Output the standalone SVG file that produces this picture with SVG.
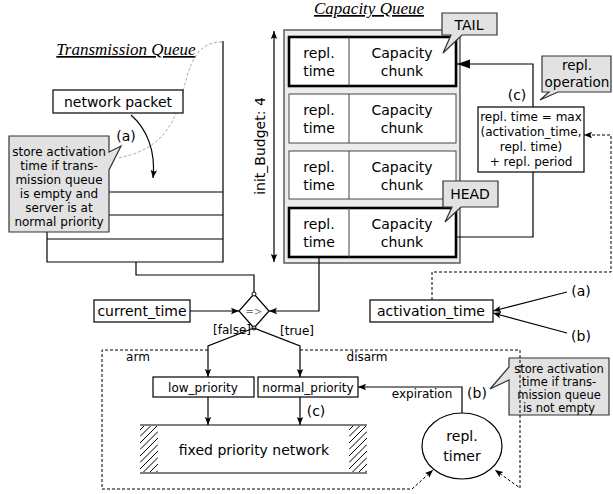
<svg xmlns="http://www.w3.org/2000/svg" width="613" height="494" viewBox="0 0 613 494">
<defs>
<marker id="ah" viewBox="0 0 10 10" refX="10" refY="5" markerWidth="8" markerHeight="8" markerUnits="userSpaceOnUse" orient="auto-start-reverse">
<path d="M0,1 L10,5 L0,9 L2,5 Z" fill="#000"/>
</marker>
<marker id="ahb" viewBox="0 0 10 10" refX="10" refY="5" markerWidth="13" markerHeight="13" markerUnits="userSpaceOnUse" orient="auto">
<path d="M0,1.5 L10,5 L0,8.5 Z" fill="#000"/>
</marker>
<clipPath id="clipL"><rect x="140" y="426" width="18" height="46"/></clipPath>
<clipPath id="clipR"><rect x="349" y="426" width="18" height="46"/></clipPath>
<path id="hatchlines" d="M0,430 L18,412 M0,436.5 L18,418.5 M0,443 L18,425 M0,449.5 L18,431.5 M0,456 L18,438 M0,462.5 L18,444.5 M0,469 L18,451 M0,475.5 L18,457.5 M0,482 L18,464 M0,488.5 L18,470.5" fill="none" stroke="#000" stroke-width="1"/>
<style>
text{font-family:"DejaVu Sans","Noto Sans",sans-serif;fill:#000}
.t14{font-size:14px}
.t13{font-size:13.5px}
.t12{font-size:12px}
.t115{font-size:11.5px}
.title{font-family:"Liberation Serif","DejaVu Serif",serif;font-style:italic;font-size:17px;text-decoration:underline}
.box{fill:#fff;stroke:#000;stroke-width:1.2}
.call{fill:#e2e2e2;stroke:#333;stroke-width:1.2}
.ln{fill:none;stroke:#000;stroke-width:1.2}
.dash{fill:none;stroke:#000;stroke-width:1;stroke-dasharray:3,2}
.thick{fill:#fff;stroke:#000;stroke-width:2.6}
.thin{fill:#fff;stroke:#444;stroke-width:1}
</style>
</defs>

<!-- Transmission queue -->
<g id="transmission-queue">
<text class="title" x="126" y="55" text-anchor="middle">Transmission Queue</text>
<path d="M222,42 C200,42 192,58 186,80 C178,110 172,148 118,158" fill="none" stroke="#aaa" stroke-width="1" stroke-dasharray="3,2"/>
<path class="ln" d="M223,41 V262 H47 V192 M47,192 H223 M47,215 H223 M47,239 H223"/>
</g>

<g id="network-packet">
<rect class="box" x="53" y="90" width="130" height="23"/>
<text class="t14" x="118" y="106.5" text-anchor="middle">network packet</text>
</g>

<g id="note-a">
<path class="call" d="M9,136 H109 V152 L121,146 L109,170 V232 H9 Z"/>
<text class="t12" text-anchor="middle"><tspan x="59" y="156">store activation</tspan><tspan x="59" y="170">time if trans-</tspan><tspan x="59" y="184">mission queue</tspan><tspan x="59" y="198">is empty and</tspan><tspan x="59" y="212">server is at</tspan><tspan x="59" y="226">normal priority</tspan></text>
<text class="t14" x="126" y="141" text-anchor="middle">(a)</text>
</g>

<!-- Capacity queue -->
<g id="capacity-queue">
<text class="title" x="369" y="14" text-anchor="middle">Capacity Queue</text>
<rect x="284" y="30" width="176" height="233" fill="#ececec" stroke="#666" stroke-width="1.6"/>
</g>

<g id="chunk-tail">
<rect class="thick" x="289" y="37" width="167" height="49"/>
<line x1="349" y1="37" x2="349" y2="86" stroke="#444"/>
<text class="t14" text-anchor="middle"><tspan x="319" y="58">repl.</tspan><tspan x="319" y="76">time</tspan></text>
<text class="t14" text-anchor="middle"><tspan x="402" y="58">Capacity</tspan><tspan x="402" y="76">chunk</tspan></text>
</g>
<g id="chunk-2">
<rect class="thin" x="289" y="94" width="167" height="49"/>
<line x1="349" y1="94" x2="349" y2="143" stroke="#444"/>
<text class="t14" text-anchor="middle"><tspan x="319" y="115">repl.</tspan><tspan x="319" y="133">time</tspan></text>
<text class="t14" text-anchor="middle"><tspan x="402" y="115">Capacity</tspan><tspan x="402" y="133">chunk</tspan></text>
</g>
<g id="chunk-3">
<rect class="thin" x="289" y="151" width="167" height="48"/>
<line x1="349" y1="151" x2="349" y2="199" stroke="#444"/>
<text class="t14" text-anchor="middle"><tspan x="319" y="172">repl.</tspan><tspan x="319" y="190">time</tspan></text>
<text class="t14" text-anchor="middle"><tspan x="402" y="172">Capacity</tspan><tspan x="402" y="190">chunk</tspan></text>
</g>
<g id="chunk-head">
<rect class="thick" x="289" y="208" width="167" height="49"/>
<line x1="349" y1="208" x2="349" y2="257" stroke="#444"/>
<text class="t14" text-anchor="middle"><tspan x="319" y="229">repl.</tspan><tspan x="319" y="247">time</tspan></text>
<text class="t14" text-anchor="middle"><tspan x="402" y="229">Capacity</tspan><tspan x="402" y="247">chunk</tspan></text>
</g>

<g id="init-budget">
<line class="ln" x1="274" y1="31" x2="274" y2="262" marker-start="url(#ah)" marker-end="url(#ah)"/>
<text class="t14" transform="translate(265,146) rotate(-90)" text-anchor="middle">init_Budget: 4</text>
</g>

<g id="tail-label">
<path class="call" d="M442,13 H497 V35 H462 L443,53 L451,35 H442 Z"/>
<text class="t14" x="469" y="29.5" text-anchor="middle">TAIL</text>
</g>
<g id="head-label">
<path class="call" d="M443,181 H498 V207 H461 L445,222 L452,207 H443 Z"/>
<text class="t14" x="470" y="199" text-anchor="middle">HEAD</text>
</g>

<g id="repl-operation">
<rect class="box" x="478" y="107" width="106" height="65"/>
<text class="t12" text-anchor="middle"><tspan x="531" y="121">repl. time = max</tspan><tspan x="531" y="136">(activation_time,</tspan><tspan x="531" y="151">repl. time)</tspan><tspan x="531" y="166">+ repl. period</tspan></text>
<text class="t14" x="517" y="100" text-anchor="middle">(c)</text>
</g>
<g id="repl-operation-label">
<path class="call" d="M542,56 H611 V92 H558 L540,100 L549,92 H542 Z"/>
<text class="t13" text-anchor="middle"><tspan x="577" y="70">repl.</tspan><tspan x="577" y="87">operation</tspan></text>
</g>

<!-- decision -->
<g id="decision">
<path d="M254,294 L269,311 L254,328 L239,311 Z" fill="#fff" stroke="#000" stroke-width="1.2"/>
<text x="254" y="315" font-size="10" text-anchor="middle" style="fill:#777">=&gt;</text>
<circle cx="254" cy="294" r="2" fill="#fff" stroke="#000"/>
<circle cx="254" cy="328" r="2" fill="#fff" stroke="#000"/>
</g>

<g id="current-time">
<rect class="box" x="94" y="300" width="96" height="22"/>
<text class="t14" x="142" y="316" text-anchor="middle">current_time</text>
</g>

<g id="activation-time">
<rect class="box" x="370" y="300" width="123" height="22"/>
<text class="t14" x="431" y="316" text-anchor="middle">activation_time</text>
</g>

<g id="low-priority">
<rect class="box" x="153" y="377" width="101" height="20"/>
<text class="t12" x="203" y="391.5" text-anchor="middle">low_priority</text>
</g>
<g id="normal-priority">
<rect class="box" x="258" y="377" width="100" height="20"/>
<text class="t12" x="308" y="391.5" text-anchor="middle">normal_priority</text>
</g>

<g id="fixed-priority-network">
<g clip-path="url(#clipL)"><use href="#hatchlines" transform="translate(140,0)"/></g>
<g clip-path="url(#clipR)"><use href="#hatchlines" transform="translate(349,0)"/></g>
<line class="ln" x1="140" y1="425" x2="367" y2="425"/>
<line class="ln" x1="140" y1="473" x2="367" y2="473"/>
<text class="t14" x="254" y="455" text-anchor="middle">fixed priority network</text>
</g>

<g id="repl-timer">
<ellipse cx="462" cy="446" rx="40" ry="33" fill="#fff" stroke="#000" stroke-width="1.2"/>
<text class="t14" text-anchor="middle"><tspan x="462" y="441">repl.</tspan><tspan x="462" y="461">timer</tspan></text>
</g>

<g id="note-b">
<path class="call" d="M509,358 H609 V415 H509 V380 L490,389 L509,367 Z"/>
<text class="t115" text-anchor="middle"><tspan x="559" y="373">store activation</tspan><tspan x="559" y="386">time if trans-</tspan><tspan x="559" y="399">mission queue</tspan><tspan x="559" y="412">is not empty</tspan></text>
</g>

<!-- connectors -->
<g id="connectors">
<path class="ln" d="M131,115 C146,128 156,150 153,178" marker-end="url(#ah)"/>
<path class="ln" d="M136,262 V275 H254 V292"/>
<path class="ln" d="M190,311 H239" marker-end="url(#ah)"/>
<path class="ln" d="M319,257 V311 H269" marker-end="url(#ah)"/>
<path class="ln" d="M254,328 L208,346 V377" marker-end="url(#ah)"/>
<path class="ln" d="M254,328 L300,346 V377" marker-end="url(#ah)"/>
<path class="ln" d="M208,397 V425" marker-end="url(#ah)"/>
<path class="ln" d="M300,397 V425" marker-end="url(#ah)"/>
<path class="ln" d="M456,237 H533 V172"/>
<path class="ln" d="M533,107 V64 H457" marker-end="url(#ahb)"/>
<path class="ln" d="M462,413 V387 H358" marker-end="url(#ah)"/>
<path class="ln" d="M567,292 L493,311" marker-end="url(#ah)"/>
<path class="ln" d="M567,333 L493,313" marker-end="url(#ah)"/>
<path class="dash" d="M432,300 V272 H611 V135 H584" marker-end="url(#ah)"/>
<path class="dash" d="M208,350 H102 V489 H412 L433,470" marker-end="url(#ah)"/>
<path class="dash" d="M300,350 H520 V488 L495,470" marker-end="url(#ah)"/>
<text class="t12" x="232" y="334" text-anchor="middle">[false]</text>
<text class="t12" x="297" y="335" text-anchor="middle">[true]</text>
<text class="t12" x="138" y="361" text-anchor="middle">arm</text>
<text class="t12" x="367" y="361" text-anchor="middle">disarm</text>
<text class="t14" x="316" y="416" text-anchor="middle">(c)</text>
<text class="t12" x="422" y="398" text-anchor="middle">expiration</text>
<text class="t14" x="477" y="398" text-anchor="middle">(b)</text>
<text class="t14" x="581" y="296" text-anchor="middle">(a)</text>
<text class="t14" x="581" y="341" text-anchor="middle">(b)</text>
</g>
</svg>
